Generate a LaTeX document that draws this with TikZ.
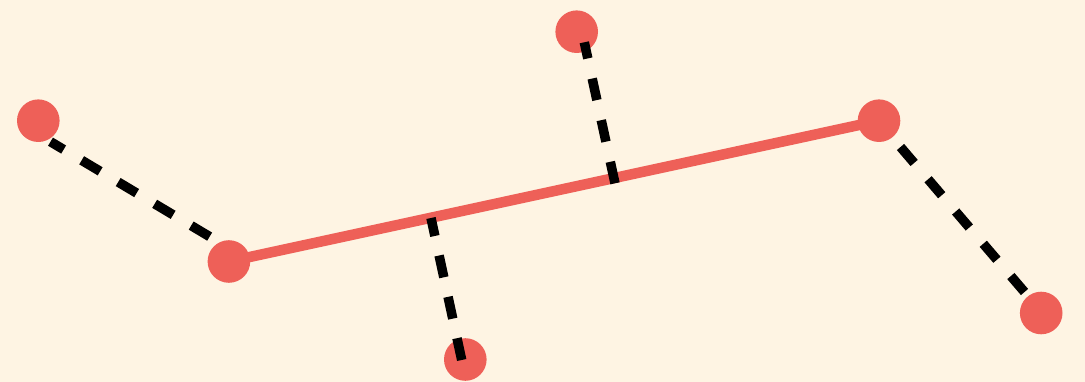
\documentclass[tikz,border=0pt]{standalone}
\definecolor{bg}{HTML}{FEF4E3}
\definecolor{dotred}{HTML}{EE6058}
\begin{document}
\begin{tikzpicture}[x=1pt,y=-1pt,
  dot/.style={circle,fill=dotred,draw=none,minimum size=42.6pt,inner sep=0pt},
  redline/.style={draw=dotred,line width=10.5pt},
  dashline/.style={draw=black,line width=9.5pt,line cap=butt}]
\fill[bg] (0,0) rectangle (1085,382);
\useasboundingbox (0,0) rectangle (1085,382);
% points
\node[dot] (A) at (38.3,120.7) {};
\node[dot] (B) at (228.9,261.5) {};
\node[dot] (C) at (576.7,31.7) {};
\node[dot] (D) at (879,120.7) {};
\node[dot] (E) at (1041.2,313) {};
\node[dot] (F) at (465.3,359.5) {};
% solid red line
\draw[redline] (B.center) -- (D.center);
% dashed connector ends
\coordinate (ab1) at (50.5,141.7);
\coordinate (ab2) at (210.8,237.3);
\coordinate (cf) at (615,183.3);
\coordinate (ct) at (584.3,42.3);
\coordinate (fb) at (461.7,360);
\coordinate (ft) at (431,218);
\coordinate (de1) at (900.5,147);
\coordinate (de2) at (1024.5,292);
% dashed lines
\draw[dashline,dash pattern=on 21.5pt off 21pt,dash phase=6.2pt] (ab1) -- (ab2);
\draw[dashline,dash pattern=on 22pt off 20.6pt] (cf) -- (ct);
\draw[dashline,dash pattern=on 22.3pt off 20pt] (fb) -- (ft);
\draw[dashline,dash pattern=on 21pt off 21.45pt] (de1) -- (de2);
\end{tikzpicture}
\end{document}
